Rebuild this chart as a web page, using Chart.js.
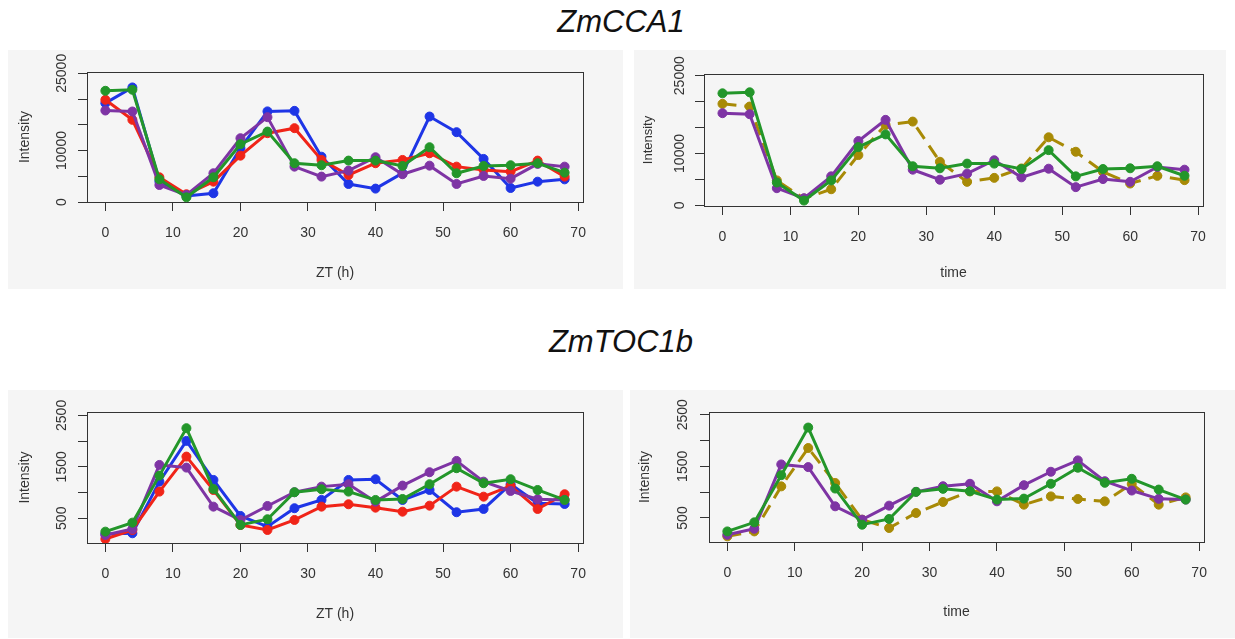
<!DOCTYPE html>
<html>
<head>
<meta charset="utf-8">
<script src="https://cdn.jsdelivr.net/npm/chart.js@4"></script>
<style>
    body { margin: 0; width: 1235px; height: 639px; background: #fff; position: relative; overflow: hidden; font-family: "Liberation Sans", Arial, sans-serif; }
    .title { position: absolute; left: 0; width: 1242px; text-align: center; font-style: italic; font-size: 31px; color: #111; line-height: 36px; }
    .panel { position: absolute; background: #f5f5f5; }
    .panel canvas { position: absolute; left: 0; top: 0; }
</style>
</head>
<body>
<div class="title" style="top:4px">ZmCCA1</div>
<div class="title" style="top:324px">ZmTOC1b</div>

<div class="panel" style="left:8px;top:50px;width:615px;height:239px"><canvas id="c1"></canvas></div>
<div class="panel" style="left:634px;top:50px;width:592px;height:239px"><canvas id="c2"></canvas></div>
<div class="panel" style="left:8px;top:390px;width:615px;height:248px"><canvas id="c3"></canvas></div>
<div class="panel" style="left:630px;top:390px;width:605px;height:248px"><canvas id="c4"></canvas></div>

<script>
// Sampling times (h)
const xHours = [0, 4, 8, 12, 16, 20, 24, 28, 32, 36, 40, 44, 48, 52, 56, 60, 64, 68];
const xTicks = [0, 10, 20, 30, 40, 50, 60, 70];

// ZmCCA1 intensities
const cca1Blue = [19200, 22250, 4000, 1170, 1700, 10450, 17600, 17700, 8800, 3500, 2600, 5600, 16600, 13560, 8370, 2720, 3950, 4400];
const cca1Red = [19850, 15960, 4800, 1500, 3950, 9000, 13370, 14340, 8170, 5250, 7530, 8170, 9470, 6870, 6230, 5900, 8040, 4930];
const cca1Green = [21600, 21800, 4400, 910, 4800, 11230, 13680, 7530, 7140, 8040, 8040, 7000, 10640, 5580, 7000, 7140, 7530, 5700];
const cca1Purple = [17770, 17580, 3300, 1360, 5580, 12390, 16480, 6870, 4930, 6100, 8690, 5390, 7060, 3500, 5060, 4530, 7400, 6870];
const cca1Olive = [19570, 19050, 4800, 1300, 3100, 9690, 15500, 16150, 8400, 4520, 5290, 7110, 13120, 10330, 6460, 4200, 5680, 4850];
const cca1YTicks = [0, 5000, 10000, 15000, 20000, 25000];
const cca1YLabels = ['0', '', '10000', '', '', '25000'];

// ZmTOC1b intensities
const toc1bBlue = [195, 208, 1212, 2004, 1245, 545, 337, 695, 856, 1245, 1259, 856, 1050, 617, 681, 1162, 792, 778];
const toc1bRed = [97, 272, 1018, 1699, 1050, 370, 272, 467, 726, 772, 706, 628, 745, 1115, 920, 1128, 681, 967];
const toc1bGreen = [240, 415, 1329, 2251, 1070, 370, 481, 1006, 1064, 1018, 856, 875, 1162, 1473, 1181, 1259, 1050, 856];
const toc1bPurple = [175, 292, 1537, 1485, 726, 467, 739, 1006, 1115, 1162, 823, 1135, 1395, 1615, 1212, 1031, 870, 856];
const toc1bOlive = [144, 240, 1112, 1855, 1178, 467, 306, 597, 810, 1015, 1015, 758, 918, 868, 822, 1158, 758, 899];
const toc1bYTicks = [500, 1000, 1500, 2000, 2500];
const toc1bYLabels = ['500', '', '1500', '', '2500'];

const COLORS = {
    blue: '#1e35e6',
    red: '#f02418',
    green: '#23962a',
    purple: '#7e34a4',
    olive: '#a88a06'
};
const TEXT = '#333';
const FONT = '"Liberation Sans", Arial, sans-serif';

function series(values, color, dashed) {
    return {
        data: xHours.map((h, i) => ({ x: h, y: values[i] })),
        borderColor: color,
        backgroundColor: color,
        borderWidth: 3,
        borderDash: dashed ? [14, 8] : [],
        pointRadius: 4.5,
        pointStyle: 'circle',
        pointBackgroundColor: color,
        pointBorderColor: color,
        pointBorderWidth: 1,
        tension: 0
    };
}

// R-like axes: box, rotated y labels, axis titles
const rAxes = {
    id: 'rAxes',
    afterDraw(chart, args, opts) {
        const ctx = chart.ctx;
        const a = chart.chartArea;
        const y = chart.scales.y;
        ctx.save();
        ctx.strokeStyle = '#333';
        ctx.lineWidth = 1;
        ctx.strokeRect(a.left + 0.5, a.top + 0.5, a.right - a.left, a.bottom - a.top);

        ctx.fillStyle = TEXT;
        ctx.textAlign = 'center';
        ctx.textBaseline = 'middle';
        ctx.font = '14px ' + FONT;
        opts.yTicks.forEach((v, i) => {
            if (!opts.yLabels[i]) return;
            ctx.save();
            ctx.translate(opts.yLabelX, y.getPixelForValue(v));
            ctx.rotate(-Math.PI / 2);
            ctx.fillText(opts.yLabels[i], 0, 0);
            ctx.restore();
        });

        ctx.font = opts.yTitleFont + ' ' + FONT;
        ctx.save();
        ctx.translate(opts.yTitleX, (a.top + a.bottom) / 2);
        ctx.rotate(-Math.PI / 2);
        ctx.fillText('Intensity', 0, 0);
        ctx.restore();

        ctx.font = '14px ' + FONT;
        ctx.fillText(opts.xTitle, (a.left + a.right) / 2, opts.xTitleY);
        ctx.restore();
    }
};

function makePanel(id, cfg) {
    const canvas = document.getElementById(id);
    canvas.width = cfg.w;
    canvas.height = cfg.h;
    canvas.style.width = cfg.w + 'px';
    canvas.style.height = cfg.h + 'px';

    return new Chart(canvas.getContext('2d'), {
        type: 'line',
        data: { datasets: cfg.datasets },
        plugins: [rAxes],
        options: {
            responsive: false,
            animation: false,
            layout: {
                padding: { left: 0, top: cfg.box[1], right: cfg.w - cfg.box[2], bottom: 0 }
            },
            plugins: {
                legend: { display: false },
                tooltip: { enabled: false },
                rAxes: {
                    yTicks: cfg.yTicks,
                    yLabels: cfg.yLabels,
                    yLabelX: cfg.yLabelX,
                    yTitleX: cfg.yTitleX,
                    yTitleFont: cfg.yTitleFont || '14px',
                    xTitle: cfg.xTitle,
                    xTitleY: cfg.xTitleY
                }
            },
            scales: {
                x: {
                    type: 'linear',
                    min: -2.72,
                    max: 70.72,
                    afterBuildTicks: s => { s.ticks = xTicks.map(v => ({ value: v })); },
                    afterFit: s => { s.height = cfg.h - cfg.box[3]; },
                    grid: { drawOnChartArea: false, drawTicks: true, tickLength: 9, color: '#333', tickColor: '#333' },
                    border: { display: false },
                    ticks: { color: TEXT, font: { size: 14, family: FONT }, padding: 14, maxRotation: 0 }
                },
                y: {
                    type: 'linear',
                    min: cfg.yMin,
                    max: cfg.yMax,
                    afterBuildTicks: s => { s.ticks = cfg.yTicks.map(v => ({ value: v })); },
                    afterFit: s => { s.width = cfg.box[0]; },
                    grid: { drawOnChartArea: false, drawTicks: true, tickLength: 9, color: '#333', tickColor: '#333' },
                    border: { display: false },
                    ticks: { display: false }
                }
            }
        }
    });
}

makePanel('c1', {
    w: 615, h: 239, box: [79, 22, 575, 152],
    yMin: 0, yMax: 25250,
    yTicks: cca1YTicks, yLabels: cca1YLabels,
    yLabelX: 54, yTitleX: 17, xTitle: 'ZT (h)', xTitleY: 223,
    datasets: [
        series(cca1Green, COLORS.green),
        series(cca1Purple, COLORS.purple),
        series(cca1Red, COLORS.red),
        series(cca1Blue, COLORS.blue)
    ]
});

makePanel('c2', {
    w: 592, h: 239, box: [70, 24, 569, 156],
    yMin: -136, yMax: 25330,
    yTicks: cca1YTicks, yLabels: cca1YLabels,
    yLabelX: 46, yTitleX: 14, yTitleFont: '13px', xTitle: 'time', xTitleY: 223,
    datasets: [
        series(cca1Green, COLORS.green),
        series(cca1Purple, COLORS.purple),
        series(cca1Olive, COLORS.olive, true)
    ]
});

makePanel('c3', {
    w: 615, h: 248, box: [79, 22, 575, 153],
    yMin: 19, yMax: 2566,
    yTicks: toc1bYTicks, yLabels: toc1bYLabels,
    yLabelX: 54, yTitleX: 17, xTitle: 'ZT (h)', xTitleY: 224,
    datasets: [
        series(toc1bGreen, COLORS.green),
        series(toc1bPurple, COLORS.purple),
        series(toc1bRed, COLORS.red),
        series(toc1bBlue, COLORS.blue)
    ]
});

makePanel('c4', {
    w: 605, h: 248, box: [79, 22, 574, 152],
    yMin: 35, yMax: 2552,
    yTicks: toc1bYTicks, yLabels: toc1bYLabels,
    yLabelX: 53, yTitleX: 15, xTitle: 'time', xTitleY: 222,
    datasets: [
        series(toc1bGreen, COLORS.green),
        series(toc1bPurple, COLORS.purple),
        series(toc1bOlive, COLORS.olive, true)
    ]
});
</script>
</body>
</html>
